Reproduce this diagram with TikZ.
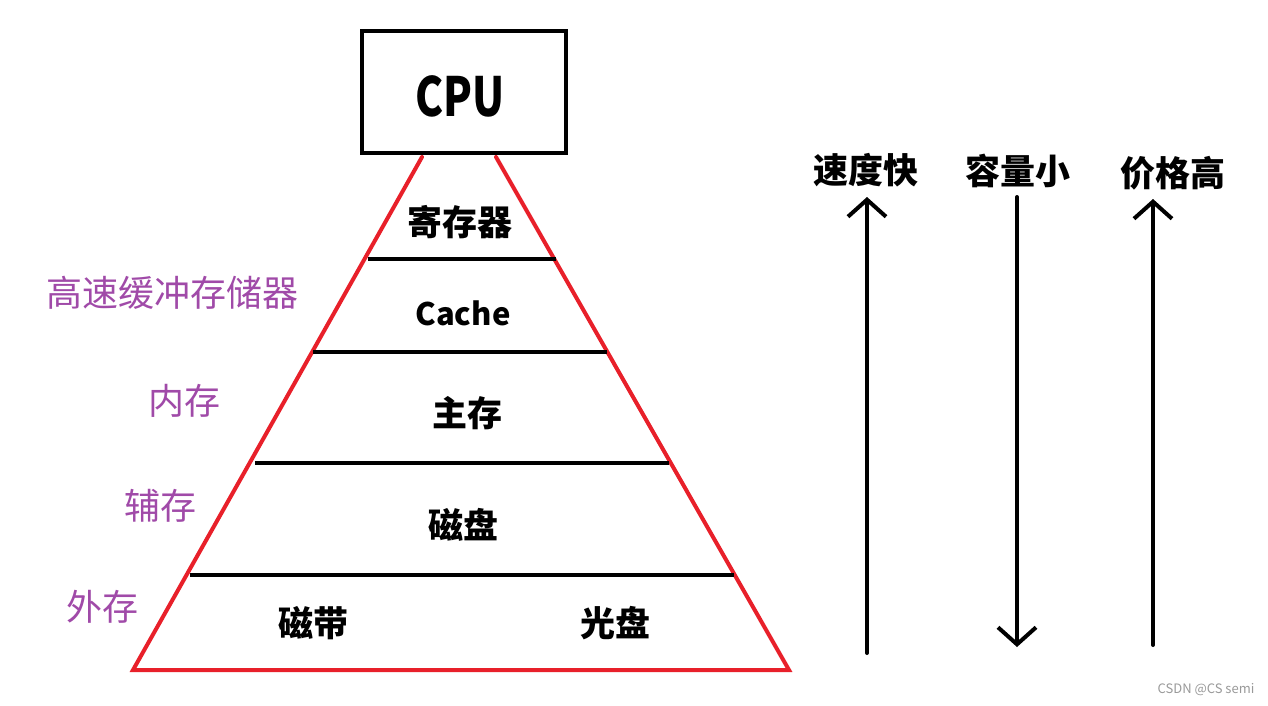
\documentclass[tikz,border=0pt]{standalone}
\usepackage{fontspec}
\setmainfont{Noto Sans CJK SC}
\newfontfamily\cjk{Noto Sans CJK SC}
\usetikzlibrary{arrows.meta}
\definecolor{tri}{HTML}{E8202A}
\definecolor{lbl}{HTML}{A04AA8}
\tikzset{
  blk/.style={line width=4pt, black},
  redl/.style={line width=4pt, tri, line cap=round},
  lvl/.style={font=\cjk\bfseries\fontsize{35}{38}\selectfont, inner sep=0pt},
  side/.style={font=\cjk\fontsize{36}{38}\selectfont, text=lbl, inner sep=0pt},
  arr/.style={line width=4pt, line cap=round, -{Straight Barb[length=17pt,width=38pt,line width=4pt]}},
}
\begin{document}
\begin{tikzpicture}[x=1pt,y=-1pt]
\useasboundingbox (0,0) rectangle (1268,705);
% CPU
\node[draw, line width=4pt, minimum width=204pt, minimum height=122pt, inner sep=0pt] (cpu) at (464,92) {};
\node[inner sep=0pt, font=\cjk\bfseries\fontsize{54}{60}\selectfont] (cputxt) at (460,96) {\scalebox{0.78}[1]{CPU}};
% triangle sides
\coordinate (tl) at (422,157);
\coordinate (tr) at (496,157);
\coordinate (bl) at (133,670);
\coordinate (br) at (789,670);
\draw[redl] (tl) -- (bl) -- (br) -- (tr);
% level lines
\coordinate (l1a) at (368,259); \coordinate (l1b) at (556,259);
\coordinate (l2a) at (313,352); \coordinate (l2b) at (607,352);
\coordinate (l3a) at (255,463); \coordinate (l3b) at (669,463);
\coordinate (l4a) at (190,575); \coordinate (l4b) at (734,575);
\draw[blk] (l1a) -- (l1b);
\draw[blk] (l2a) -- (l2b);
\draw[blk] (l3a) -- (l3b);
\draw[blk] (l4a) -- (l4b);
% level texts
\node[lvl] (reg) at (460,222) {寄存器};
\node[lvl, font=\cjk\bfseries\fontsize{31}{34}\selectfont] (cache) at (463,313) {Cache};
\node[lvl] (main) at (467,413) {主存};
\node[lvl] (disk) at (463,525) {磁盘};
\node[lvl] (tape) at (313,623) {磁带};
\node[lvl] (cd) at (615,623) {光盘};
% side labels
\node[side] (s1) at (172,293) {高速缓冲存储器};
\node[side] (s2) at (184,401) {内存};
\node[side] (s3) at (160,506) {辅存};
\node[side] (s4) at (102,607) {外存};
% right arrows
\node[lvl] (speed) at (866,170) {速度快};
\node[lvl] (cap) at (1018,171) {容量小};
\node[lvl] (price) at (1173,173) {价格高};
\coordinate (a1s) at (867,653); \coordinate (a1e) at (867,197);
\coordinate (a2s) at (1017,197); \coordinate (a2e) at (1017,647);
\coordinate (a3s) at (1153,645); \coordinate (a3e) at (1153,199);
\draw[arr] (a1s) -- (a1e);
\draw[arr] (a2s) -- (a2e);
\draw[arr] (a3s) -- (a3e);
% watermark
\node[inner sep=0pt, text=gray!80, font=\fontsize{13}{15}\selectfont] (wm) at (1206,690) {CSDN @CS semi};
\end{tikzpicture}
\end{document}
